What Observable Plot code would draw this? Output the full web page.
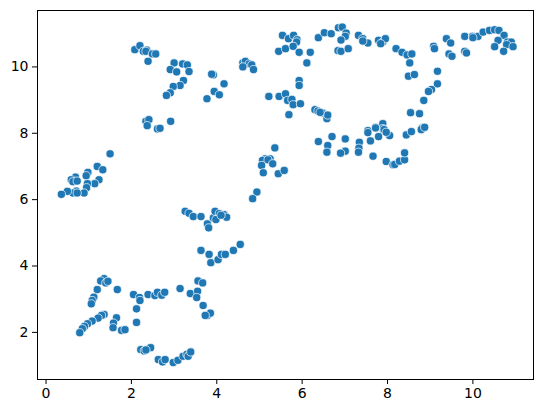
<!DOCTYPE html>
<html>
<head>
<meta charset="utf-8">
<script src="https://cdn.jsdelivr.net/npm/d3@7"></script>
<script src="https://cdn.jsdelivr.net/npm/@observablehq/plot@0.6"></script>
<style>
  html, body { margin: 0; padding: 0; background: white; }
  #chart { width: 543px; height: 413px; }
</style>
</head>
<body>
<div id="chart"></div>
<script>
const xs = [
  1.50,1.20,1.33,0.98,0.94,1.24,1.14,0.97,0.69,0.59,0.63,0.73,0.95,0.89,0.71,0.63,0.50,0.36,0.73,
  1.36,1.28,1.40,1.45,1.20,1.67,1.12,1.08,1.06,2.05,2.19,2.20,2.39,2.55,2.61,2.71,2.78,3.14,3.38,3.55,3.53,2.12,2.12,1.36,1.30,1.22,1.08,0.97,0.90,0.85,0.79,1.65,1.58,1.57,1.77,1.85,2.22,2.30,2.45,2.34,2.63,2.73,2.79,2.98,3.09,3.21,3.30,3.33,3.39,
  4.94,4.84,3.26,3.35,3.45,3.63,3.78,3.81,3.92,3.96,4.06,3.98,4.17,4.23,4.10,3.63,3.82,3.86,4.03,4.11,4.20,4.39,4.55,3.56,3.67,3.68,3.78,3.85,3.73,
  2.08,2.20,2.28,2.36,2.34,2.49,2.57,2.39,3.00,2.91,3.06,3.20,3.31,3.35,3.22,3.14,2.98,2.91,2.82,3.92,3.88,4.17,3.94,4.06,3.77,4.61,4.67,4.76,4.82,4.86,4.61,5.22,2.34,2.41,2.37,2.61,2.67,2.92,
  5.54,5.68,5.80,5.88,5.87,5.45,5.61,5.79,5.93,6.19,6.11,5.93,5.93,6.38,6.52,6.68,6.85,6.94,7.03,7.01,6.91,6.84,6.91,7.08,7.32,7.42,7.54,7.42,7.79,7.89,7.95,7.84,5.46,5.61,5.66,5.76,5.79,5.96,5.69,6.30,6.37,6.48,6.58,6.60,6.42,7.54,7.72,7.89,
  8.20,8.34,8.46,8.57,8.52,8.49,8.63,9.38,9.48,9.08,9.10,9.44,9.51,9.81,9.99,10.12,10.24,10.39,10.51,10.61,10.73,10.59,10.81,10.90,10.79,10.94,10.51,10.72,10.00,9.81,9.85,9.17,9.17,9.03,8.96,8.85,8.54,8.75,8.83,8.86,8.80,7.89,8.05,8.44,8.56,7.92,
  5.36,5.13,5.07,5.25,5.20,5.05,5.31,5.09,5.44,5.58,6.38,6.70,6.60,6.58,7.01,7.01,6.90,7.34,7.33,7.32,7.54,7.60,7.72,7.79,7.92,7.97,7.66,7.97,8.13,8.17,8.28,8.40,8.40,8.79,8.87
];
const ys = [
  7.38,7.00,6.90,6.82,6.72,6.60,6.48,6.48,6.68,6.60,6.54,6.56,6.36,6.20,6.26,6.20,6.25,6.16,6.20,
  3.62,3.55,3.49,3.54,3.29,3.29,3.06,2.96,2.86,3.14,3.05,2.96,3.14,3.11,3.21,3.12,3.21,3.32,3.17,3.24,3.05,2.71,2.30,2.54,2.51,2.43,2.34,2.26,2.18,2.11,1.99,2.44,2.28,2.14,2.06,2.08,1.48,1.44,1.54,1.47,1.18,1.11,1.18,1.09,1.16,1.28,1.34,1.28,1.41,
  6.23,6.03,5.65,5.59,5.49,5.49,5.27,5.15,5.45,5.65,5.58,5.40,5.55,5.47,5.53,4.47,4.35,4.10,4.19,4.35,4.35,4.47,4.65,3.55,3.49,2.81,2.51,2.58,2.51,
  10.52,10.64,10.47,10.51,10.47,10.39,10.39,10.17,10.12,9.92,9.85,10.09,10.06,9.86,9.59,9.44,9.41,9.22,9.14,9.76,9.78,9.49,9.26,9.16,9.04,10.12,10.17,10.09,10.06,9.92,10.00,9.11,8.36,8.41,8.23,8.13,8.15,8.36,
  10.95,10.85,10.95,10.82,10.75,10.47,10.55,10.62,10.44,10.44,10.12,9.59,9.44,10.88,11.03,11.00,11.18,11.20,11.02,10.92,10.81,10.49,10.47,10.55,10.95,10.85,10.72,10.78,10.80,10.75,10.85,10.70,9.11,9.19,8.99,9.02,8.86,8.89,8.56,8.71,8.67,8.61,8.44,8.55,8.63,8.08,8.18,8.29,
  10.55,10.44,10.36,10.39,10.12,9.72,9.77,10.85,10.72,10.62,10.55,10.39,10.32,10.92,10.92,10.92,11.05,11.10,11.12,11.10,10.95,10.80,10.75,10.75,10.67,10.61,10.61,10.47,10.88,10.47,10.42,9.87,9.49,9.32,9.26,8.99,8.62,8.59,8.18,8.17,8.15,8.14,7.93,7.95,8.05,8.07,
  7.56,7.23,7.18,7.23,7.20,7.03,7.08,6.81,6.78,6.88,7.75,7.90,7.63,7.43,7.83,7.46,7.40,7.73,7.55,7.43,8.02,7.77,8.16,7.90,8.11,8.03,7.31,7.15,7.05,7.06,7.16,7.20,7.41,8.11,8.18
];
const xTicks = [0, 2, 4, 6, 8, 10];
const yTicks = [2, 4, 6, 8, 10];

const data = xs.map((x, i) => ({x, y: ys[i]}));

const chart = Plot.plot({
  width: 543,
  height: 413,
  marginLeft: 37,
  marginRight: 10,
  marginTop: 10,
  marginBottom: 34,
  style: {fontFamily: "DejaVu Sans", fontSize: "14px", color: "black", background: "white"},
  x: {domain: [-0.2, 11.42], label: null},
  y: {domain: [0.58, 11.70], label: null},
  marks: [
    Plot.axisX({ticks: xTicks, tickSize: 5, tickPadding: 4, stroke: "black", fill: "black", label: null, fontSize: 14}),
    Plot.axisY({ticks: yTicks, tickSize: 5, tickPadding: 4, stroke: "black", fill: "black", label: null, fontSize: 14}),
    Plot.dot(data, {x: "x", y: "y", r: 4.1, fill: "#1f77b4", stroke: "white", strokeWidth: 0.7}),
    Plot.frame({stroke: "black", strokeWidth: 1})
  ]
});
document.getElementById("chart").appendChild(chart);
</script>
</body>
</html>
